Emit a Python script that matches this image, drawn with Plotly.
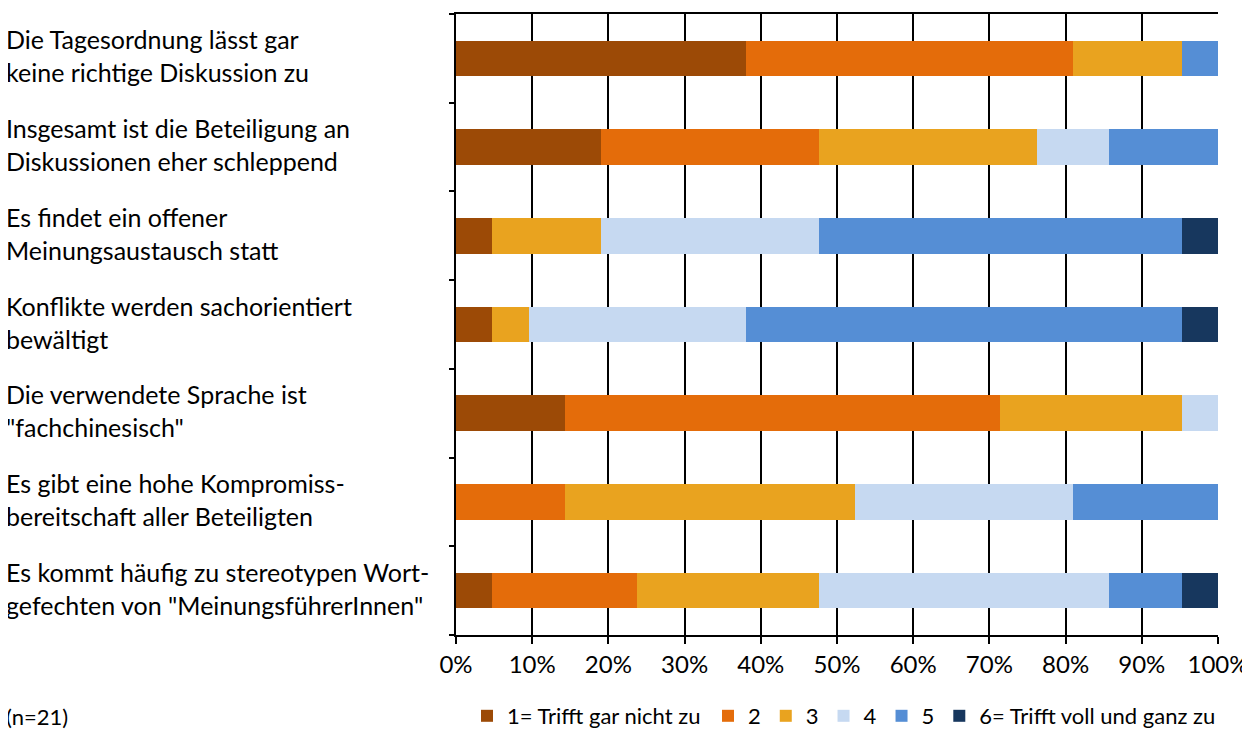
import plotly.graph_objects as go

categories = [
    "Die Tagesordnung lässt gar<br>keine richtige Diskussion zu",
    "Insgesamt ist die Beteiligung an<br>Diskussionen eher schleppend",
    "Es findet ein offener<br>Meinungsaustausch statt",
    "Konflikte werden sachorientiert<br>bewältigt",
    "Die verwendete Sprache ist<br>\"fachchinesisch\"",
    "Es gibt eine hohe Kompromiss-<br>bereitschaft aller Beteiligten",
    "Es kommt häufig zu stereotypen Wort-<br>gefechten von \"MeinungsführerInnen\"",
]
series_names = ["1= Trifft gar nicht zu", "2", "3", "4", "5", "6= Trifft voll und ganz zu"]
# counts out of n=21
counts = {
    "1= Trifft gar nicht zu": [8, 4, 1, 1, 3, 0, 1],
    "2": [9, 6, 0, 0, 12, 3, 4],
    "3": [3, 6, 3, 1, 5, 8, 5],
    "4": [0, 2, 6, 6, 1, 6, 8],
    "5": [1, 3, 10, 12, 0, 4, 2],
    "6= Trifft voll und ganz zu": [0, 0, 1, 1, 0, 0, 1],
}
n_total = 21
colors = ["#9C4A06", "#E46C0A", "#E9A31F", "#C6D9F1", "#558ED5", "#17375E"]
x_ticks = [0, 10, 20, 30, 40, 50, 60, 70, 80, 90, 100]

FONT = "Lato"
ids = list(range(len(categories)))

fig = go.Figure()
for k, (name, col) in enumerate(zip(series_names, colors)):
    vals = [c / n_total * 100 for c in counts[name]]
    fig.add_trace(go.Bar(
        y=ids, x=vals, name=name, orientation="h",
        marker=dict(color=col, line=dict(width=0)),
        hoverinfo="x+name",
        legend="legend" if k == 0 else "legend2",
    ))

W, H = 1242, 728
ML, MR, MT, MB = 448, 32, 6, 101
PW, PH = W - ML - MR, H - MT - MB
LEG_Y = 708  # figure px of legend centre line
annotations = []
for i, cat in enumerate(categories):
    lines = cat.split("<br>")
    offs = [-19, 14] if len(lines) == 2 else [-2]
    for ln, off in zip(lines, offs):
        annotations.append(dict(
            xref="paper", yref="y", x=-452 / PW, y=i, yshift=-off,
            text=ln, showarrow=False, xanchor="left", yanchor="middle",
            font=dict(family=FONT, size=25, color="#000"),
        ))
annotations.append(dict(
    xref="paper", yref="paper", x=-452 / PW, y=-(LEG_Y - MT - PH) / PH,
    text="(n=21)", showarrow=False, xanchor="left", yanchor="middle",
    font=dict(family=FONT, size=22, color="#000"),
))

leg_common = dict(orientation="h", xref="paper", yref="paper", xanchor="left",
                  y=-(LEG_Y - MT - PH) / PH, yanchor="middle",
                  font=dict(family=FONT, size=22), traceorder="normal",
                  itemwidth=30, tracegroupgap=0, bgcolor="rgba(0,0,0,0)")

fig.update_layout(
    barmode="stack",
    bargap=0.6,
    width=W, height=H,
    margin=dict(l=ML, r=MR, t=MT, b=MB, autoexpand=False),
    paper_bgcolor="white", plot_bgcolor="white",
    font=dict(family=FONT, size=22, color="#000"),
    showlegend=True,
    legend=dict(x=(459 - ML) / PW, **leg_common),
    legend2=dict(x=(700 - ML) / PW, **leg_common),
    annotations=annotations,
    xaxis=dict(range=[0, 100], tickvals=x_ticks, ticktext=[f"{v}%" for v in x_ticks],
               showgrid=True, gridcolor="#000", gridwidth=1.5,
               showline=True, linecolor="#000", linewidth=1.5, mirror=True,
               ticks="outside", ticklen=7, tickcolor="#000", tickwidth=1.5,
               zeroline=False, tickfont=dict(size=24), fixedrange=True, automargin=False),
    yaxis=dict(range=[len(categories) - 0.5, -0.5],
               tickvals=[i - 0.5 for i in range(len(categories) + 1)],
               showticklabels=False, ticks="outside", ticklen=5, tickcolor="#000", tickwidth=1.5,
               showgrid=False, showline=True, linecolor="#000", linewidth=1.5,
               zeroline=False, fixedrange=True, automargin=False),
)

fig.write_html("out.html")
